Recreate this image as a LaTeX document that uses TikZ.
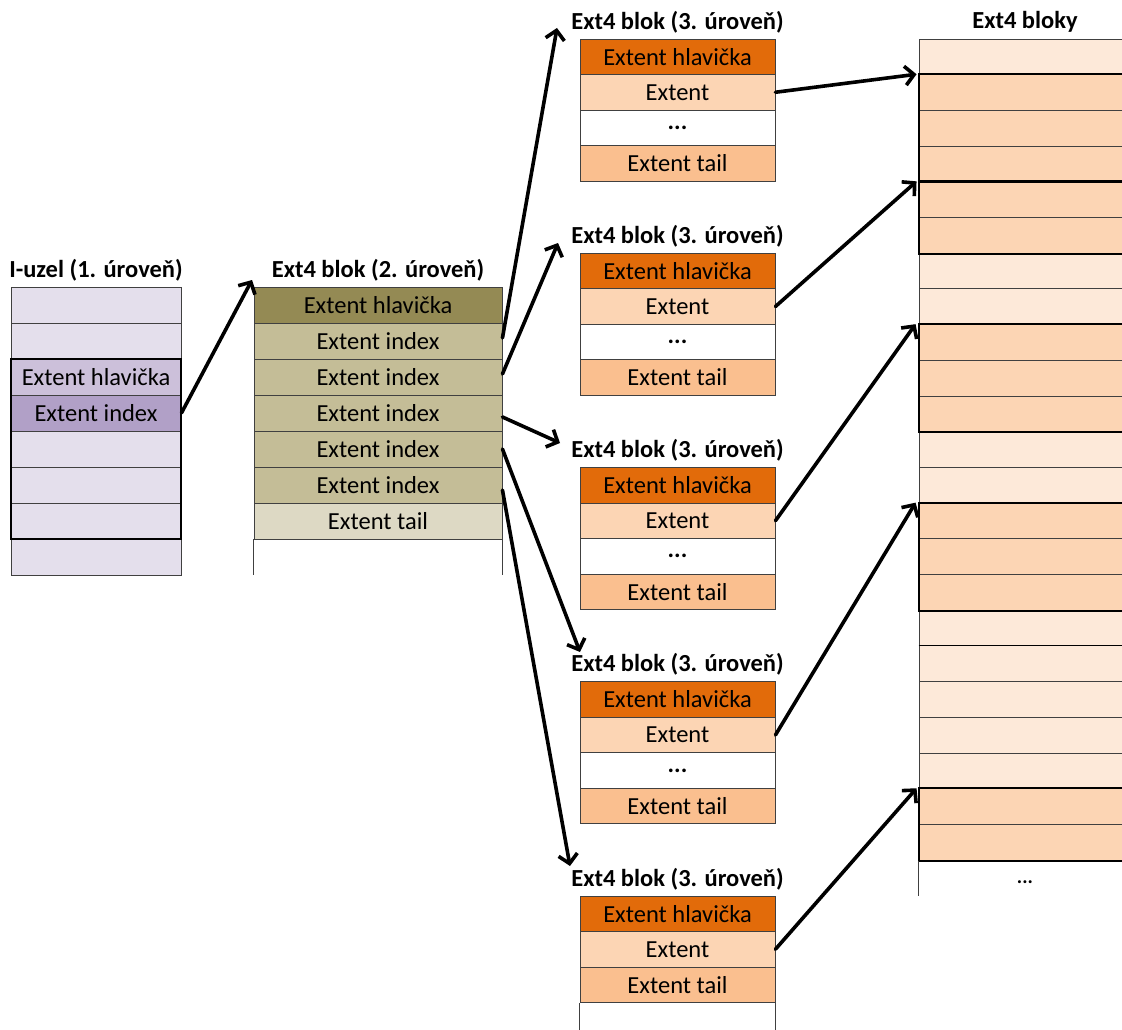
\documentclass[tikz,border=0pt]{standalone}
\usepackage{fontspec}
\setmainfont{Carlito}
\usetikzlibrary{arrows.meta}
\definecolor{lavL}{HTML}{E4DFEC}
\definecolor{lavM}{HTML}{CCC0DA}
\definecolor{lavD}{HTML}{B1A0C7}
\definecolor{olD}{HTML}{948A54}
\definecolor{olM}{HTML}{C4BD97}
\definecolor{olL}{HTML}{DDD9C4}
\definecolor{orD}{HTML}{E26B0A}
\definecolor{orL}{HTML}{FCD5B4}
\definecolor{orM}{HTML}{FABF8F}
\definecolor{orV}{HTML}{FDE9D9}
\definecolor{gridc}{HTML}{404040}
\begin{document}
\begin{tikzpicture}[x=1pt,y=-1pt,
  cell/.style={draw=gridc, line width=0.9pt, inner sep=0pt, text=black,
    font=\fontsize{24.5}{28}\selectfont},
  icell/.style={cell, minimum width=170pt, minimum height=36pt},
  mcell/.style={cell, minimum width=248pt, minimum height=36pt},
  bcell/.style={cell, minimum width=195pt, minimum height=35.5pt},
  rcell/.style={cell, minimum width=206pt, minimum height=35.7pt},
  ttl/.style={inner sep=0pt, font=\fontsize{24.5}{28}\selectfont\bfseries},
  side/.style={draw=gridc, line width=0.9pt},
  tbox/.style={draw=black, line width=2pt},
  arr/.style={-{Straight Barb[length=9pt,width=19pt,line width=3.6pt]}, line width=3.6pt, line cap=round}]
\useasboundingbox (0,0) rectangle (1122,1030);

% ---------- I-uzel ----------
\node[ttl] (ititle) at (96,270) {I-uzel (1. úroveň)};
\foreach \i/\c/\t in {1/lavL/{},2/lavL/{},3/lavM/{Extent hlavička},4/lavD/{Extent index},5/lavL/{},6/lavL/{},7/lavL/{},8/lavL/{}}
  \node[icell, fill=\c] (i\i) at (96,{287+36*(\i-1)+18}) {\t};
\draw[tbox] (i3.north west) rectangle (i7.south east);

% ---------- Ext4 blok (2. uroven) ----------
\node[ttl] (mtitle) at (378,270) {Ext4 blok (2. úroveň)};
\foreach \i/\c/\t in {1/olD/{Extent hlavička},2/olM/{Extent index},3/olM/{Extent index},4/olM/{Extent index},5/olM/{Extent index},6/olM/{Extent index},7/olL/{Extent tail}}
  \node[mcell, fill=\c] (m\i) at (378,{287+36*(\i-1)+18}) {\t};
\draw[side] (m7.south west) -- ++(0,36);
\draw[side] (m7.south east) -- ++(0,36);

% ---------- Ext4 blok (3. uroven) ----------
\foreach \k in {1,2,3,4}{
  \pgfmathsetmacro{\T}{39+214.25*(\k-1)}
  \node[ttl] (b\k-t) at (677.5,\T-17) {Ext4 blok (3. úroveň)};
  \foreach \j/\c/\t in {1/orD/{Extent hlavička},2/orL/{Extent},3/white/{\textbf{...}},4/orM/{Extent tail}}
    \node[bcell, fill=\c] (b\k-\j) at (677.5,{\T+35.5*(\j-1)+17.75}) {\t};
}
\pgfmathsetmacro{\T}{39+214.25*4}
\node[ttl] (b5-t) at (677.5,\T-17) {Ext4 blok (3. úroveň)};
\foreach \j/\c/\t in {1/orD/{Extent hlavička},2/orL/{Extent},3/orM/{Extent tail}}
  \node[bcell, fill=\c] (b5-\j) at (677.5,{\T+35.5*(\j-1)+17.75}) {\t};
\draw[side] (b5-3.south west) -- ++(0,40);
\draw[side] (b5-3.south east) -- ++(0,40);

% ---------- Ext4 bloky ----------
\node[ttl] (rtitle) at (1025,22) {Ext4 bloky};
\foreach \j/\c in {1/orV,2/orL,3/orL,4/orL,5/orL,6/orL,7/orV,8/orV,9/orL,10/orL,11/orL,12/orV,13/orV,14/orL,15/orL,16/orL,17/orV,18/orV,19/orV,20/orV,21/orV,22/orL,23/orL}
  \node[rcell, fill=\c] (r\j) at (1022,{39+35.7*(\j-1)+17.85}) {};
\draw[tbox] (r2.north west) rectangle (r4.south east);
\draw[tbox] (r5.north west) rectangle (r6.south east);
\draw[tbox] (r9.north west) rectangle (r11.south east);
\draw[tbox] (r14.north west) rectangle (r16.south east);
\draw[tbox] (r22.north west) rectangle (r23.south east);
\draw[line width=1.6pt, draw=black] (r18.north west) -- (r18.north east);
\draw[side] (r23.south west) -- ++(0,35);
\node[inner sep=0pt, font=\fontsize{20}{22}\selectfont\bfseries] (rdots) at (1025,882) {...};

% ---------- arrows ----------
\coordinate (tipm) at (252,280);
\coordinate (tip1) at (557,28);
\coordinate (tip2) at (558,243);
\coordinate (tip3) at (560,443);
\coordinate (tip4) at (580,652);
\coordinate (tip5) at (570,866);
\draw[arr] (i4.east) -- (tipm);
\draw[arr] ([yshift=3pt]m2.east) -- (tip1);
\draw[arr] ([yshift=3pt]m3.east) -- (tip2);
\draw[arr] ([yshift=-4pt]m4.east) -- (tip3);
\draw[arr] (m5.east) -- (tip4);
\draw[arr] ([yshift=-5pt]m6.east) -- (tip5);
\draw[arr] (b1-2.east) -- ([xshift=-2pt]r2.north west);
\draw[arr] (b2-2.east) -- ([xshift=-2pt]r5.north west);
\draw[arr] (b3-2.east) -- ([xshift=-3pt]r9.north west);
\draw[arr] (b4-2.east) -- ([xshift=-3pt]r14.north west);
\draw[arr] (b5-2.east) -- ([xshift=-2pt]r22.north west);
\end{tikzpicture}
\end{document}
